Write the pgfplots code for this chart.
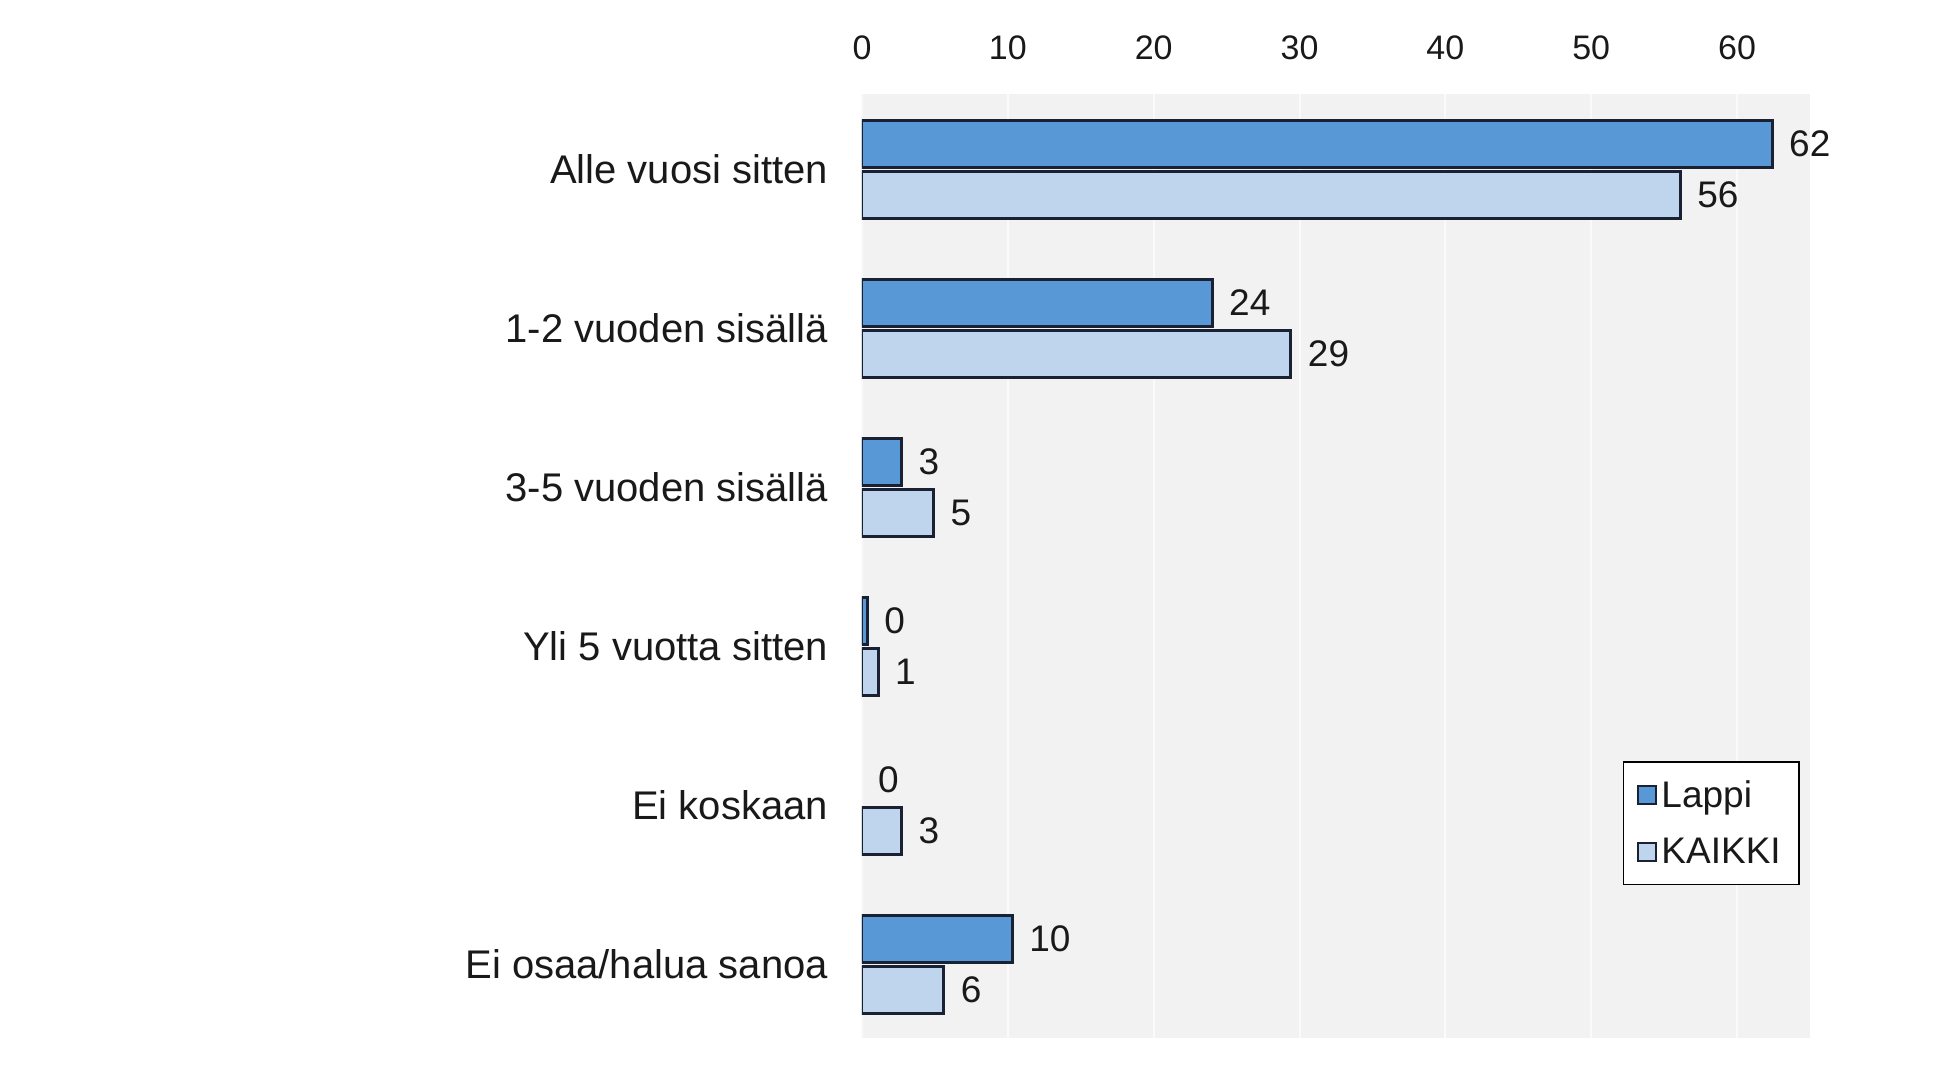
\documentclass[border=0pt]{standalone}
\usepackage{fontspec}
\setmainfont{Liberation Sans}
\usepackage{pgfplots}
\pgfplotsset{compat=1.18}
\definecolor{lappi}{RGB}{88,152,214}
\definecolor{kaikki}{RGB}{190,213,237}
\definecolor{edge}{RGB}{25,33,50}
\definecolor{bg}{RGB}{242,242,242}
\definecolor{gridc}{RGB}{250,250,250}
\definecolor{txt}{RGB}{25,25,25}

\pgfplotstableread{
c v l
0 62.4 62
1 24.0 24
2 2.7 3
3 0.35 0
5 10.3 10
}\lappitab
\pgfplotstableread{
c v l
0 56.1 56
1 29.4 29
2 4.9 5
3 1.1 1
4 2.7 3
5 5.6 6
}\kaikkitab

\begin{document}
\begin{tikzpicture}
\path[use as bounding box] (-431pt,-13.5pt) rectangle (541pt,519pt);
\begin{axis}[
  at={(0pt,0pt)}, anchor=south west,
  scale only axis, width=474pt, height=472pt,
  xmin=0, xmax=65, ymin=-0.475, ymax=5.465, y dir=reverse,
  axis background/.style={fill=bg},
  axis line style={draw=none},
  major tick length=0pt,
  xtick={0,10,...,60},
  xticklabel pos=upper,
  xticklabel style={font=\fontsize{17}{20}\selectfont, text=txt, yshift=13.5pt},
  ytick={0,...,5},
  yticklabels={Alle vuosi sitten, 1-2 vuoden sisällä, 3-5 vuoden sisällä, Yli 5 vuotta sitten, Ei koskaan, Ei osaa/halua sanoa},
  yticklabel style={font=\fontsize{20}{24}\selectfont, text=txt, xshift=-13.5pt},
  xmajorgrids, major grid style={gridc, line width=1pt},
  /pgf/number format/assume math mode=true,
  legend style={at={(0.989,0.293)}, anchor=north east, draw=black, line width=0.8pt, fill=white,
    font=\fontsize{18.5}{22}\selectfont, text=txt, row sep=10pt, inner xsep=7pt, inner ysep=7pt},
  legend cell align=left,
  mybar/.style={xbar, bar width=23.5pt, draw=edge, line width=1.5pt,
    nodes near coords={\pgfplotspointmeta}, point meta=explicit symbolic,
    every node near coord/.append style={font=\fontsize{18.5}{22}\selectfont, text=txt, anchor=west, xshift=4.5pt},
    legend image code/.code={\draw[##1, line width=1pt] (0pt,-4.5pt) rectangle (9pt,4.5pt);}},
]
\addplot[mybar, bar shift=12.75pt, fill=lappi,
  every node near coord/.append style={yshift=12.75pt}] table[x=v, y=c, meta=l] {\lappitab};
\addlegendentry{Lappi}
\addplot[mybar, bar shift=-12.75pt, fill=kaikki,
  every node near coord/.append style={yshift=-12.75pt}] table[x=v, y=c, meta=l] {\kaikkitab};
\addlegendentry{KAIKKI}
\addplot[draw=none, mark=none, forget plot, nodes near coords={0},
  every node near coord/.append style={font=\fontsize{18.5}{22}\selectfont, text=txt, anchor=west, xshift=4.5pt, yshift=12.75pt}]
  coordinates {(0,4)};
\end{axis}
\end{tikzpicture}
\end{document}
